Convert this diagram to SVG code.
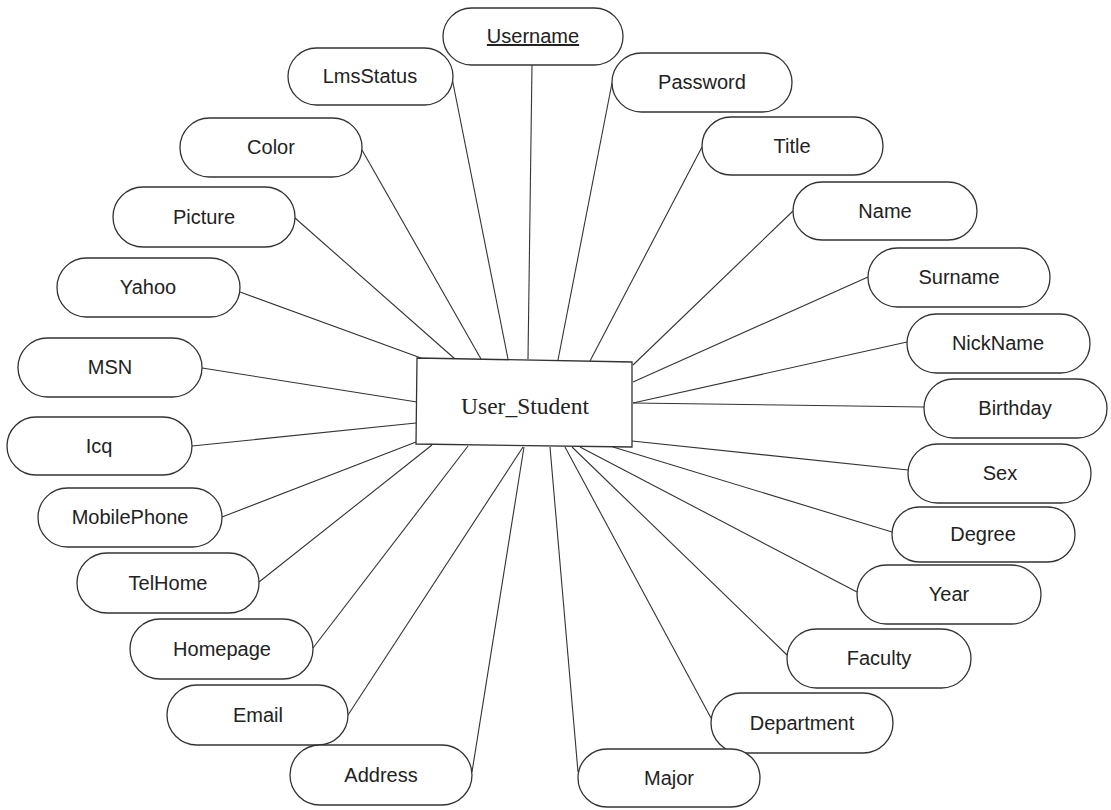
<svg xmlns="http://www.w3.org/2000/svg" width="1111" height="810" viewBox="0 0 1111 810">
<style>
.a{fill:#fff;stroke:#333;stroke-width:1.3}
.t{font-family:"Liberation Sans",Arial,sans-serif;font-size:20px;fill:#222;text-anchor:middle}
.c line{stroke:#333;stroke-width:1.1}
.e{font-family:"Liberation Serif","Times New Roman",serif;font-size:23.5px;fill:#222;text-anchor:middle}
</style>
<rect width="1111" height="810" fill="#fff"/>
<g class="c" id="connectors">
<line x1="532" y1="65" x2="528" y2="359"/>
<line x1="452" y1="78" x2="508" y2="359"/>
<line x1="612" y1="83" x2="558" y2="360"/>
<line x1="362" y1="150" x2="481" y2="359"/>
<line x1="702" y1="147" x2="590" y2="361"/>
<line x1="295" y1="218" x2="455" y2="359"/>
<line x1="793" y1="211" x2="633" y2="365"/>
<line x1="240" y1="292" x2="421" y2="358"/>
<line x1="868" y1="277" x2="633" y2="382"/>
<line x1="202" y1="368" x2="417" y2="402"/>
<line x1="907" y1="342" x2="633" y2="403"/>
<line x1="924" y1="407" x2="633" y2="403"/>
<line x1="192" y1="446" x2="416" y2="423"/>
<line x1="908" y1="470" x2="632" y2="441"/>
<line x1="222" y1="517" x2="416" y2="442"/>
<line x1="892" y1="532" x2="613" y2="447"/>
<line x1="259" y1="582" x2="432" y2="445"/>
<line x1="857" y1="592" x2="580" y2="447"/>
<line x1="313" y1="648" x2="468" y2="446"/>
<line x1="787" y1="655" x2="572" y2="447"/>
<line x1="348" y1="715" x2="523" y2="447"/>
<line x1="711" y1="718" x2="565" y2="447"/>
<line x1="472" y1="772" x2="524" y2="447"/>
<line x1="578" y1="772" x2="550" y2="447"/>
</g>
<g id="User_Student">
<polygon class="a" points="417,358 632,362 632,447 416,444"/>
<text class="e" x="525" y="414">User_Student</text>
</g>
<g id="Username"><rect class="a" x="443" y="8" width="180" height="57" rx="28.5"/><text class="t" x="533" y="43" text-decoration="underline">Username</text></g>
<g id="LmsStatus"><rect class="a" x="288" y="48" width="165" height="57" rx="28.5"/><text class="t" x="370" y="83">LmsStatus</text></g>
<g id="Password"><rect class="a" x="612" y="53" width="180" height="59" rx="29.5"/><text class="t" x="702" y="89">Password</text></g>
<g id="Color"><rect class="a" x="180" y="118" width="182" height="59" rx="29.5"/><text class="t" x="271" y="154">Color</text></g>
<g id="Title"><rect class="a" x="702" y="117" width="181" height="58" rx="29"/><text class="t" x="792" y="153">Title</text></g>
<g id="Picture"><rect class="a" x="113" y="187" width="182" height="60" rx="30"/><text class="t" x="204" y="224">Picture</text></g>
<g id="Name"><rect class="a" x="793" y="182" width="184" height="58" rx="29"/><text class="t" x="885" y="218">Name</text></g>
<g id="Yahoo"><rect class="a" x="57" y="258" width="183" height="59" rx="29.5"/><text class="t" x="148" y="294">Yahoo</text></g>
<g id="Surname"><rect class="a" x="868" y="248" width="182" height="59" rx="29.5"/><text class="t" x="959" y="284">Surname</text></g>
<g id="MSN"><rect class="a" x="18" y="338" width="184" height="59" rx="29.5"/><text class="t" x="110" y="374">MSN</text></g>
<g id="NickName"><rect class="a" x="907" y="314" width="183" height="59" rx="29.5"/><text class="t" x="998" y="350">NickName</text></g>
<g id="Icq"><rect class="a" x="7" y="417" width="185" height="58" rx="29"/><text class="t" x="99" y="453">Icq</text></g>
<g id="Birthday"><rect class="a" x="924" y="379" width="183" height="59" rx="29.5"/><text class="t" x="1015" y="415">Birthday</text></g>
<g id="MobilePhone"><rect class="a" x="38" y="488" width="184" height="59" rx="29.5"/><text class="t" x="130" y="524">MobilePhone</text></g>
<g id="Sex"><rect class="a" x="908" y="444" width="183" height="59" rx="29.5"/><text class="t" x="1000" y="480">Sex</text></g>
<g id="TelHome"><rect class="a" x="77" y="553" width="182" height="60" rx="30"/><text class="t" x="168" y="590">TelHome</text></g>
<g id="Degree"><rect class="a" x="892" y="507" width="183" height="55" rx="27.5"/><text class="t" x="983" y="541">Degree</text></g>
<g id="Year"><rect class="a" x="857" y="565" width="184" height="59" rx="29.5"/><text class="t" x="949" y="601">Year</text></g>
<g id="Homepage"><rect class="a" x="130" y="619" width="183" height="60" rx="30"/><text class="t" x="222" y="656">Homepage</text></g>
<g id="Faculty"><rect class="a" x="787" y="629" width="184" height="59" rx="29.5"/><text class="t" x="879" y="665">Faculty</text></g>
<g id="Email"><rect class="a" x="167" y="685" width="181" height="60" rx="30"/><text class="t" x="258" y="722">Email</text></g>
<g id="Department"><rect class="a" x="711" y="693" width="182" height="60" rx="30"/><text class="t" x="802" y="730">Department</text></g>
<g id="Address"><rect class="a" x="290" y="745" width="182" height="60" rx="30"/><text class="t" x="381" y="782">Address</text></g>
<g id="Major"><rect class="a" x="578" y="749" width="182" height="58" rx="29"/><text class="t" x="669" y="785">Major</text></g>
</svg>
